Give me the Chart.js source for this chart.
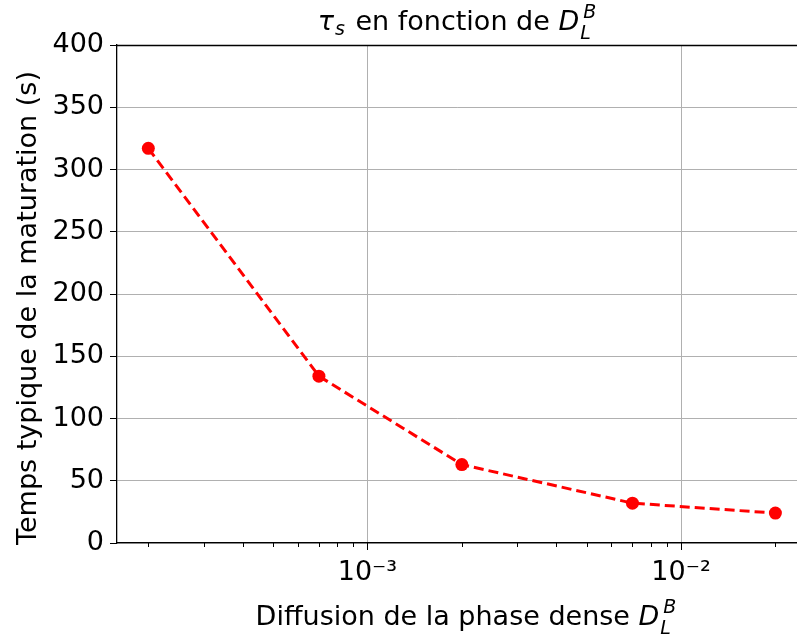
<!DOCTYPE html>
<html>
<head>
<meta charset="utf-8">
<script src="https://cdn.jsdelivr.net/npm/chart.js@4.4.1/dist/chart.umd.min.js"></script>
<style>
  html, body { margin: 0; padding: 0; background: #fff; overflow: hidden; }
  #wrap { width: 797px; height: 637px; }
</style>
</head>
<body>
<div id="wrap"><canvas id="tauChart"></canvas></div>
<script>
// values
const diffusion = [2e-4, 7e-4, 2e-3, 7e-3, 2e-2];
const tempsMaturation = [317, 134, 63, 32, 24];
const yTickValues = [0, 50, 100, 150, 200, 250, 300, 350, 400];
const xMajorLabels = { '0.001': '10⁻³', '0.01': '10⁻²' };
const yLabel = 'Temps typique de la maturation (s)';

const FONT = 'DejaVu Sans';
const FS = 27;

// title / x label pieces: base text, optional sub / sup, italic flag
const titleParts = [
    { t: 'τ', it: true, sub: 's' },
    { t: ' en fonction de ' },
    { t: 'D', it: true, sub: 'L', sup: 'B' }
];
const xLabelParts = [
    { t: 'Diffusion de la phase dense ' },
    { t: 'D', it: true, sub: 'L', sup: 'B' }
];

function drawMath(ctx, parts, cx, baseline, size) {
    const small = Math.round(size * 0.7);
    const fontFor = (it, s) => (it ? 'oblique ' : '') + s + 'px "' + FONT + '"';
    let total = 0;
    parts.forEach(p => {
        ctx.font = fontFor(p.it, size);
        p.w = ctx.measureText(p.t).width;
        ctx.font = fontFor(p.it, small);
        const sw = p.sub ? ctx.measureText(p.sub).width + 1 : 0;
        const uw = p.sup ? ctx.measureText(p.sup).width + 4 : 0;
        p.extra = (p.sub || p.sup) ? Math.max(sw, uw) + 2 : 0;
        total += p.w + p.extra;
    });
    let x = cx - total / 2;
    ctx.fillStyle = '#000';
    ctx.textBaseline = 'alphabetic';
    ctx.textAlign = 'left';
    parts.forEach(p => {
        ctx.font = fontFor(p.it, size);
        ctx.fillText(p.t, x, baseline);
        ctx.font = fontFor(p.it, small);
        if (p.sub) ctx.fillText(p.sub, x + p.w + 1, baseline + (p.sup ? size * 0.33 : size * 0.2));
        if (p.sup) ctx.fillText(p.sup, x + p.w + 4, baseline - size * 0.45);
        x += p.w + p.extra;
    });
}

const axisDecor = {
    id: 'axisDecor',
    afterDraw(chart) {
        const ctx = chart.ctx;
        const area = chart.chartArea;
        const xs = chart.scales.x;
        ctx.save();
        // x tick marks, long on decades, short otherwise
        ctx.strokeStyle = '#000';
        ctx.lineWidth = 1;
        xs.ticks.forEach(t => {
            const px = Math.round(xs.getPixelForValue(t.value)) + 0.5;
            const len = t.major ? 7 : 4;
            ctx.beginPath();
            ctx.moveTo(px, area.bottom);
            ctx.lineTo(px, area.bottom + len);
            ctx.stroke();
        });
        // top spine
        ctx.lineWidth = 1.3;
        ctx.beginPath();
        ctx.moveTo(area.left, Math.round(area.top) + 0.5);
        ctx.lineTo(area.right, Math.round(area.top) + 0.5);
        ctx.stroke();

        drawMath(ctx, titleParts, 458, 30, FS);
        drawMath(ctx, xLabelParts, 467, 625, FS);

        // y axis label, rotated
        ctx.translate(28.5, 308);
        ctx.rotate(-Math.PI / 2);
        ctx.font = FS + 'px "' + FONT + '"';
        ctx.textAlign = 'center';
        ctx.textBaseline = 'middle';
        ctx.fillText(yLabel, 0, 0);
        ctx.restore();
    }
};

new Chart(document.getElementById('tauChart'), {
    type: 'line',
    data: {
        datasets: [{
            data: diffusion.map((d, i) => ({ x: d, y: tempsMaturation[i] })),
            borderColor: '#ff0000',
            backgroundColor: '#ff0000',
            borderWidth: 3,
            borderDash: [10, 5],
            pointRadius: 6.5,
            pointHoverRadius: 6.5,
            pointBorderWidth: 0,
            tension: 0
        }]
    },
    options: {
        responsive: true,
        maintainAspectRatio: false,
        animation: false,
        layout: { autoPadding: false, padding: { top: 45, right: 0, bottom: 0, left: 0 } },
        plugins: {
            legend: { display: false },
            title: { display: false },
            tooltip: { enabled: false }
        },
        scales: {
            x: {
                type: 'logarithmic',
                min: 1.589e-4,
                max: 0.02344,
                afterFit: (scale) => {
                    scale.height = 94;
                    scale.paddingLeft = 0;
                    scale.paddingRight = 0;
                },
                afterBuildTicks: (scale) => {
                    const ticks = [];
                    for (let e = -4; e <= -2; e++) {
                        for (let m = 1; m <= 9; m++) {
                            const v = parseFloat((m * Math.pow(10, e)).toPrecision(3));
                            if (v >= scale.min && v <= scale.max) ticks.push({ value: v, major: m === 1 });
                        }
                    }
                    scale.ticks = ticks;
                },
                grid: {
                    drawTicks: false,
                    color: (c) => (c.tick && xMajorLabels[String(c.tick.value)] ? '#b0b0b0' : 'rgba(0,0,0,0)'),
                    lineWidth: 1
                },
                border: { display: true, color: '#000', width: 1.3 },
                ticks: {
                    autoSkip: false,
                    maxRotation: 0,
                    padding: 14,
                    color: '#000',
                    font: { family: FONT, size: FS },
                    callback: (value) => xMajorLabels[String(value)] || ''
                }
            },
            y: {
                min: 0,
                max: 400,
                afterFit: (scale) => { scale.width = 117; },
                afterBuildTicks: (scale) => { scale.ticks = yTickValues.map(v => ({ value: v })); },
                grid: {
                    color: '#b0b0b0',
                    lineWidth: 1,
                    tickColor: '#000',
                    tickLength: 7
                },
                border: { display: true, color: '#000', width: 1.3 },
                ticks: {
                    padding: 6,
                    color: '#000',
                    font: { family: FONT, size: FS }
                }
            }
        }
    },
    plugins: [axisDecor]
});
</script>
</body>
</html>
